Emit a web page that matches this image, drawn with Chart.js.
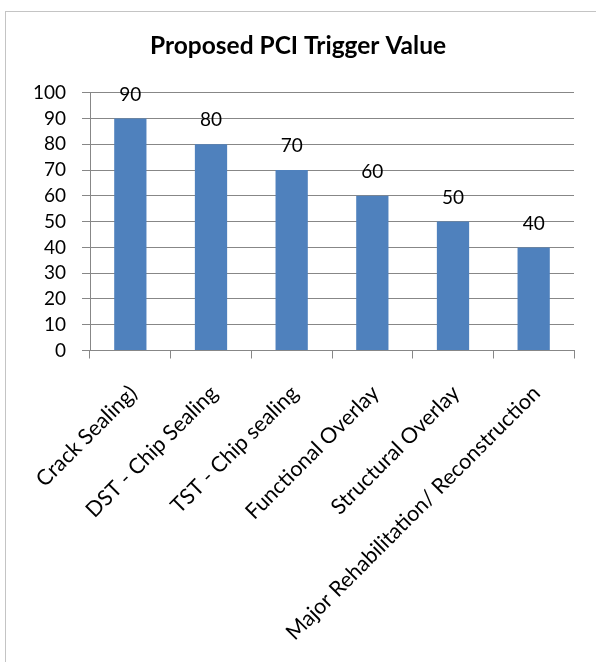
<!DOCTYPE html>
<html><head><meta charset="utf-8">
<script src="https://cdn.jsdelivr.net/npm/chart.js@4/dist/chart.umd.min.js"></script>
<style>
html,body{margin:0;padding:0;background:#fff;overflow:hidden;width:596px;height:662px}
#frame{position:absolute;left:5px;top:11px;width:800px;height:800px;border:1px solid #c4c4c4;}
#wrap{position:absolute;left:0;top:0;width:596px;height:662px}
</style></head><body>
<div id="frame"></div>
<div id="wrap"><canvas id="c" width="596" height="662"></canvas></div>
<script>
const chartTitle = "Proposed PCI Trigger Value";
const categories = ["Crack Sealing)", "DST - Chip Sealing", "TST - Chip sealing", "Functional Overlay", "Structural Overlay", "Major Rehabilitation/ Reconstruction"];
const values = [90, 80, 70, 60, 50, 40];
const yMin = 0, yMax = 100, yStep = 10;

const FONT = "Lato";
const gridColor = "#878787";

const dataLabels = {
  id: "dataLabels",
  afterDatasetsDraw(chart) {
    const ctx = chart.ctx;
    ctx.save();
    ctx.font = "19px " + FONT;
    ctx.fillStyle = "#000";
    ctx.textAlign = "center";
    ctx.textBaseline = "middle";
    chart.getDatasetMeta(0).data.forEach((bar, i) => {
      ctx.fillText(String(chart.data.datasets[0].data[i]), bar.x, bar.y - 24);
    });
    ctx.restore();
  }
};

new Chart(document.getElementById("c"), {
  type: "bar",
  data: {
    labels: categories,
    datasets: [{
      data: values,
      backgroundColor: "#4F81BD",
      borderWidth: 0,
      categoryPercentage: 1,
      barPercentage: 0.4
    }]
  },
  plugins: [dataLabels],
  options: {
    responsive: false,
    animation: false,
    devicePixelRatio: 1,
    layout: { padding: { left: 0, right: 0, top: 0, bottom: 0 } },
    plugins: {
      legend: { display: false },
      tooltip: { enabled: false },
      title: {
        display: true,
        text: chartTitle,
        color: "#000",
        font: { family: FONT, size: 24.5, weight: "bold", lineHeight: 1.2 },
        padding: { top: 31, bottom: 32.3 }
      }
    },
    scales: {
      x: {
        afterFit(scale) { scale.height = 311.5; },
        grid: { drawOnChartArea: false, drawTicks: true, tickLength: 8, color: gridColor, offset: true },
        border: { color: gridColor, width: 1 },
        ticks: {
          autoSkip: false, minRotation: 45, maxRotation: 45,
          color: "#000", padding: 22, labelOffset: 3,
          font: { family: FONT, size: 21.5 }
        }
      },
      y: {
        min: yMin, max: yMax,
        afterFit(scale) { scale.width = 90; },
        grid: { color: gridColor, tickLength: 8, drawTicks: true },
        border: { color: gridColor, width: 1 },
        ticks: {
          stepSize: yStep, autoSkip: false, color: "#000", padding: 16,
          font: { family: FONT, size: 19 }
        }
      },
      spacer: {
        position: "right",
        display: true,
        afterFit(scale) { scale.width = 22; },
        grid: { display: false, drawTicks: false },
        border: { display: false },
        ticks: { display: false }
      }
    }
  }
});
</script>
</body></html>
